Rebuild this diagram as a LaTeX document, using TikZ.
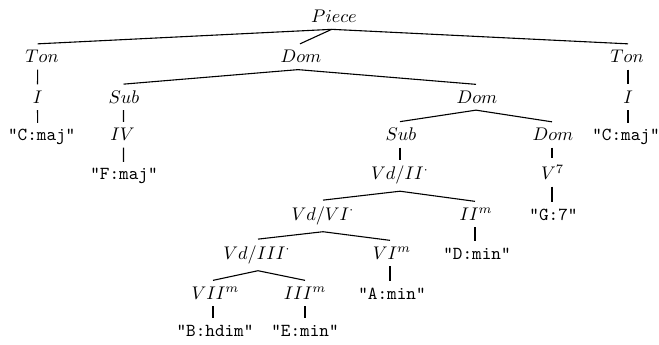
\documentclass[tikz,border=0pt]{standalone}
\begin{document}
\begin{tikzpicture}[x=0.5464pt, y=-0.5464pt, line width=0.6pt,
  lbl/.style={anchor=base, inner sep=3.33pt},
  leaf/.style={lbl, font=\ttfamily}]
\newcommand\tedge[4]{\draw ([shift={(#2,0)}]#1.south) -- ([shift={(#4,0)}]#3.north);}
\useasboundingbox (0,0) rectangle (659,345);
% row 0
\node[lbl] (piece) at (334,22.7) {$Piece$};
% row 1
\node[lbl] (tonL) at (42,63) {$Ton$};
\node[lbl] (dom1) at (301,63) {$Dom$};
\node[lbl] (tonR) at (627,63) {$Ton$};
% row 2
\node[lbl] (iL) at (37.5,103.5) {$I$};
\node[lbl] (sub1) at (124,103.5) {$Sub$};
\node[lbl] (dom2) at (477,103.5) {$Dom$};
\node[lbl] (iR) at (628,103.5) {$I$};
% row 3
\node[leaf] (cmajL) at (41.7,141) {"C:maj"};
\node[lbl] (iv) at (122.5,141) {$IV$};
\node[lbl] (sub2) at (401,141) {$Sub$};
\node[lbl] (dom3) at (553,141) {$Dom$};
\node[leaf] (cmajR) at (626,141) {"C:maj"};
% row 4
\node[leaf] (fmaj) at (124,180) {"F:maj"};
\node[lbl] (vdii) at (400,180) {$Vd/II^{\cdot}$};
\node[lbl] (v7) at (552.5,180) {$V^7$};
% row 5
\node[lbl] (vdvi) at (323,220.5) {$Vd/VI^{\cdot}$};
\node[lbl] (iim) at (476,220.5) {$II^m$};
\node[leaf] (g7) at (553.5,220.5) {"G:7"};
% row 6
\node[lbl] (vdiii) at (257,259.5) {$Vd/III^{\cdot}$};
\node[lbl] (vim) at (392,259.5) {$VI^m$};
\node[leaf] (dmin) at (477,259.5) {"D:min"};
% row 7
\node[lbl] (viim) at (215.5,299.5) {$VII^m$};
\node[lbl] (iiim) at (305,299.5) {$III^m$};
\node[leaf] (amin) at (392,299.5) {"A:min"};
% row 8
\node[leaf] (bhdim) at (215,336) {"B:hdim"};
\node[leaf] (emin) at (305,336) {"E:min"};
% edges
\tedge{piece}{-2.3}{tonL}{-4.3}
\tedge{piece}{-2.3}{dom1}{-1}
\tedge{piece}{-2.3}{tonR}{1}
\tedge{tonL}{-4.3}{iL}{0}
\tedge{iL}{0}{cmajL}{-4}
\tedge{dom1}{-3}{sub1}{-0.5}
\tedge{dom1}{-3}{dom2}{-1}
\tedge{sub1}{-0.5}{iv}{1}
\tedge{iv}{1}{fmaj}{-0.5}
\tedge{tonR}{1}{iR}{0}
\tedge{iR}{0}{cmajR}{2}
\tedge{dom2}{-1}{sub2}{-1}
\tedge{dom2}{-1}{dom3}{-1}
\tedge{sub2}{-1}{vdii}{0}
\tedge{dom3}{-1}{v7}{-0.5}
\tedge{vdii}{0}{vdvi}{0}
\tedge{vdii}{0}{iim}{-1}
\tedge{v7}{-0.5}{g7}{-1.5}
\tedge{vdvi}{0}{vdiii}{1}
\tedge{vdvi}{0}{vim}{-2}
\tedge{iim}{-1}{dmin}{-2}
\tedge{vdiii}{1}{viim}{-2.5}
\tedge{vdiii}{1}{iiim}{0}
\tedge{vim}{-2}{amin}{-2}
\tedge{viim}{-2.5}{bhdim}{-2}
\tedge{iiim}{0}{emin}{0}
\end{tikzpicture}
\end{document}
